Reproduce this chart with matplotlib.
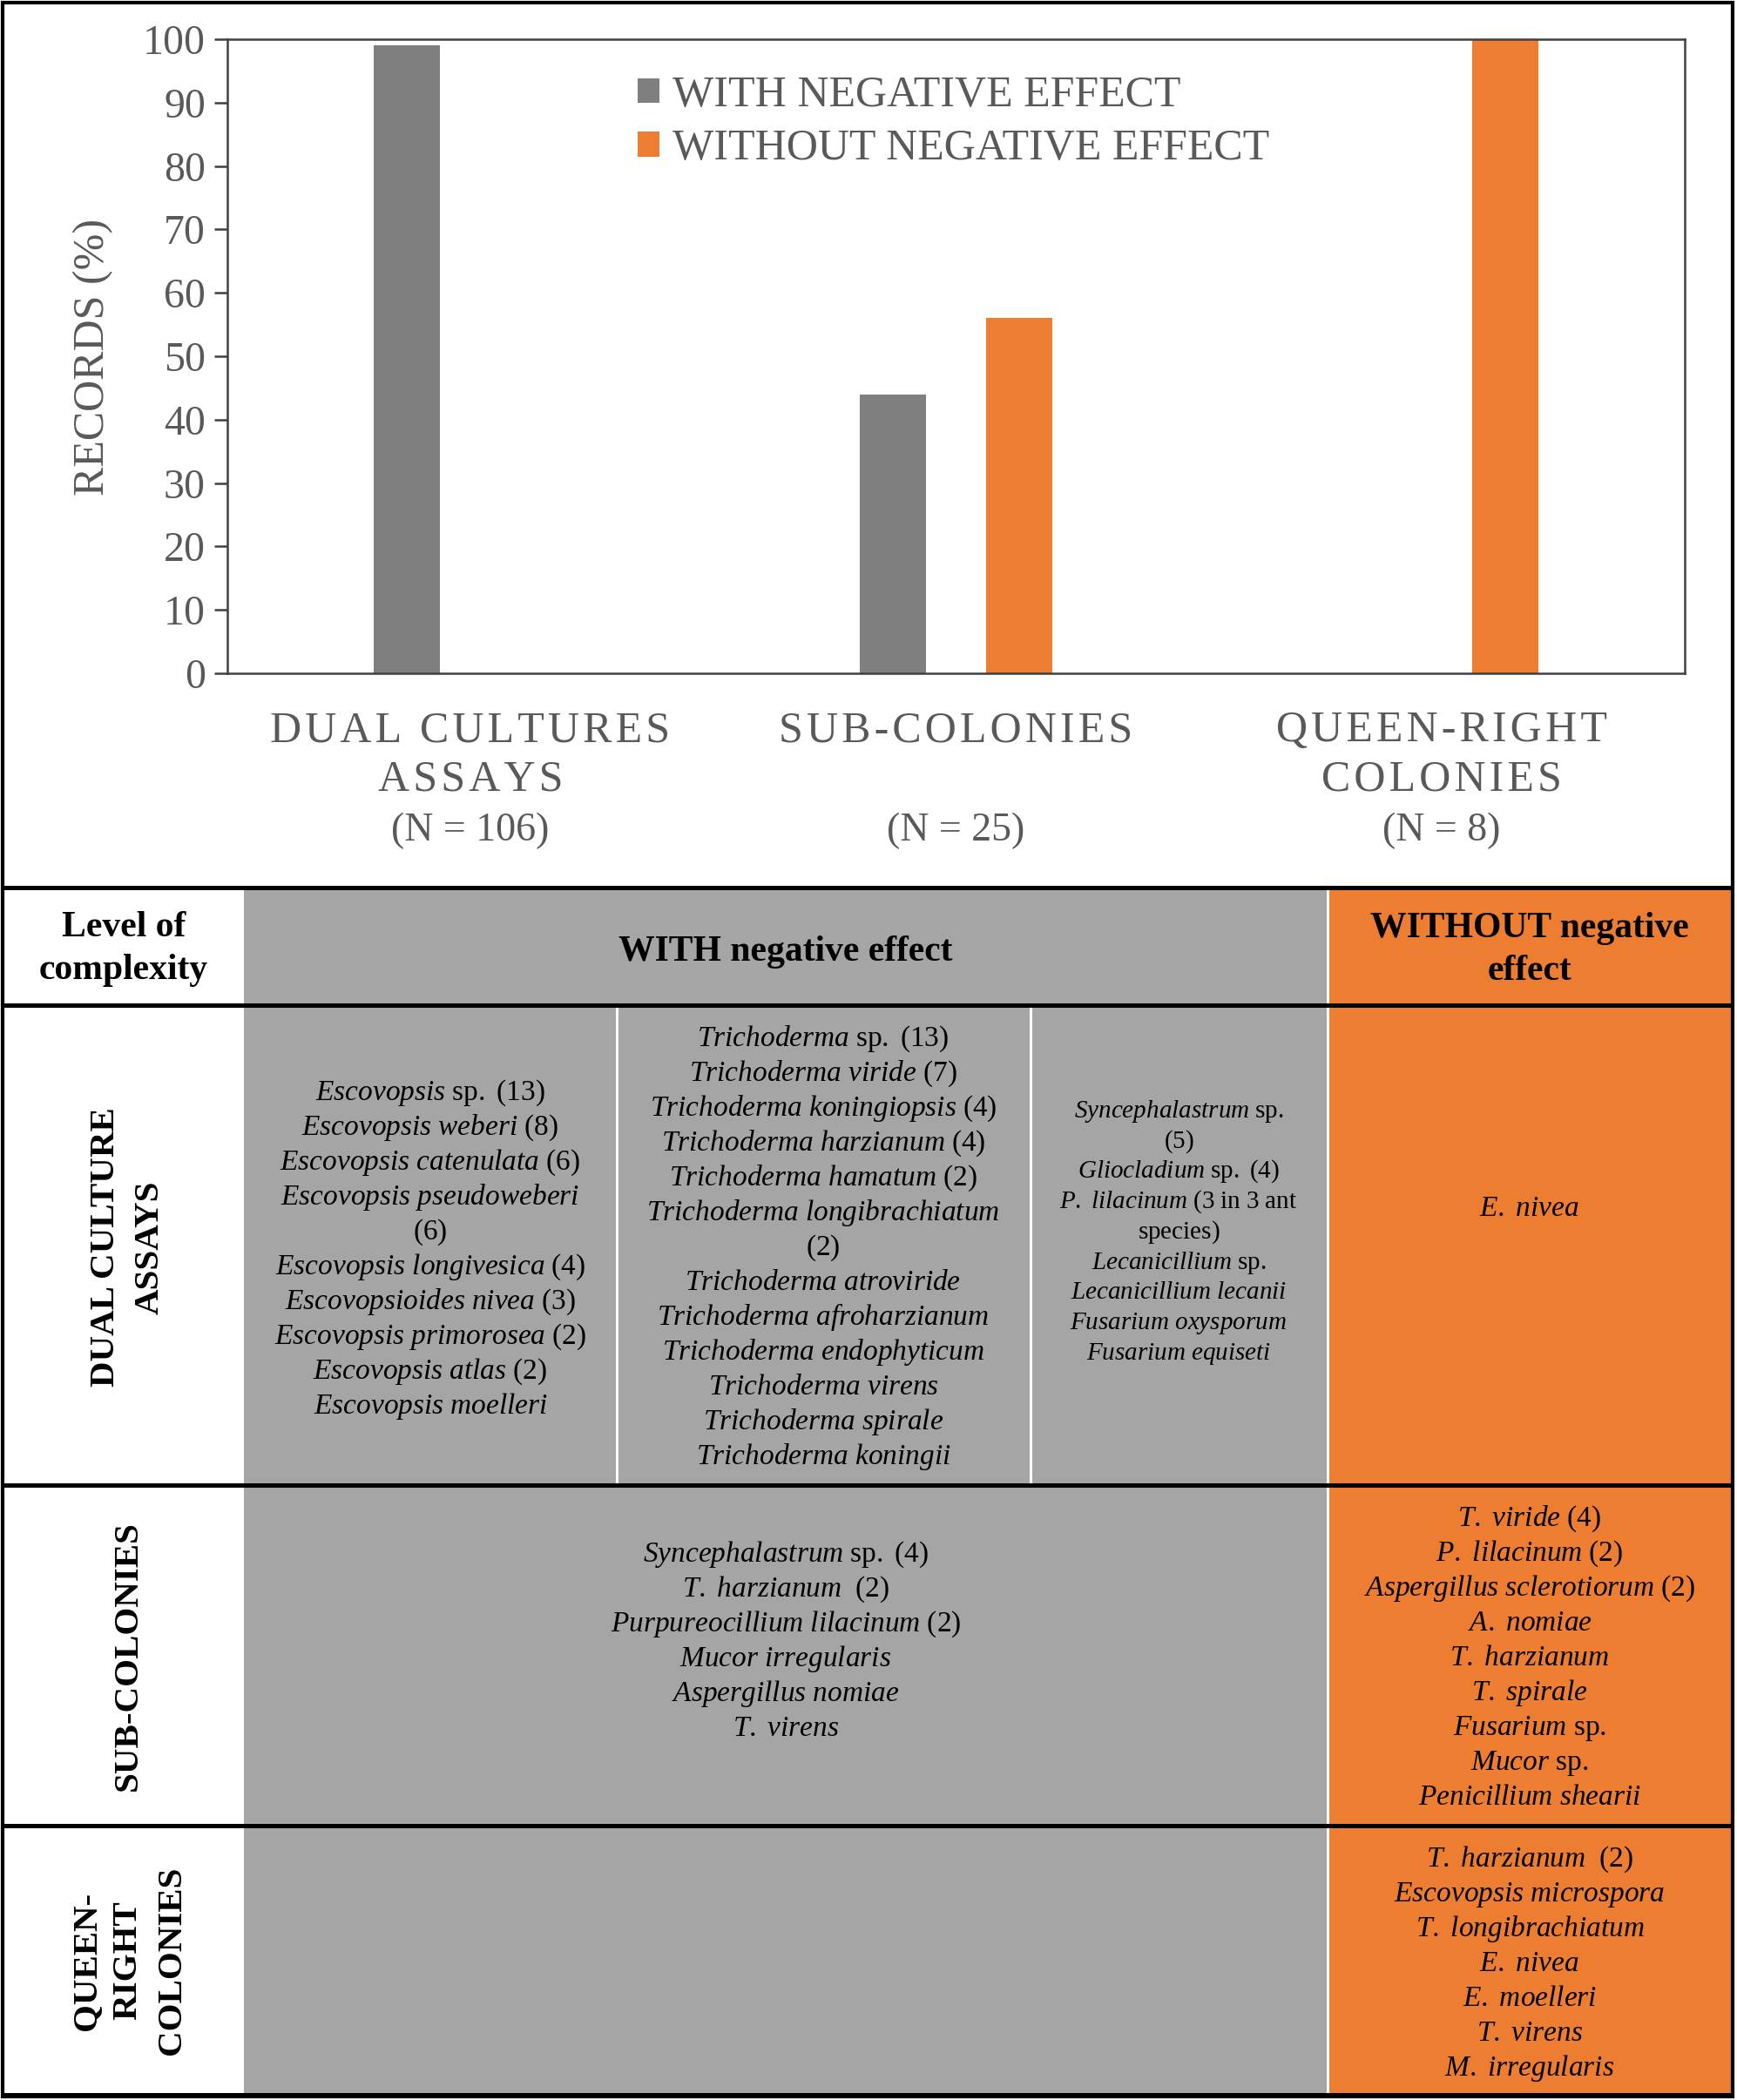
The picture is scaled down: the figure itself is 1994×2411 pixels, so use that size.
import numpy as np
import matplotlib
matplotlib.use('Agg')
import matplotlib.pyplot as plt
from matplotlib.patches import Rectangle
from matplotlib.transforms import blended_transform_factory

# ---- data -------------------------------------------------------------------
categories = ["DUAL CULTURES\nASSAYS", "SUB-COLONIES", "QUEEN-RIGHT\nCOLONIES"]
n_labels = ["(N = 106)", "(N = 25)", "(N = 8)"]
with_neg = [99, 44, 0]
without_neg = [0, 56, 100]
series_names = ["WITH NEGATIVE EFFECT", "WITHOUT NEGATIVE EFFECT"]

head_level = ["Level of", "complexity"]
head_with = ["WITH negative effect"]
head_without = ["WITHOUT negative", "effect"]
row_labels = [["DUAL CULTURE", "ASSAYS"], ["SUB-COLONIES"], ["QUEEN-", "RIGHT", "COLONIES"]]

# *...* marks italic
dual_a = ["*Escovopsis* sp. (13)", "*Escovopsis weberi* (8)", "*Escovopsis catenulata* (6)",
          "*Escovopsis pseudoweberi*", "(6)", "*Escovopsis longivesica* (4)",
          "*Escovopsioides nivea* (3)", "*Escovopsis primorosea* (2)", "*Escovopsis atlas* (2)",
          "*Escovopsis moelleri*"]
dual_b = ["*Trichoderma* sp. (13)", "*Trichoderma viride* (7)", "*Trichoderma koningiopsis* (4)",
          "*Trichoderma harzianum* (4)", "*Trichoderma hamatum* (2)",
          "*Trichoderma longibrachiatum*", "(2)", "*Trichoderma atroviride*",
          "*Trichoderma afroharzianum*", "*Trichoderma endophyticum*", "*Trichoderma virens*",
          "*Trichoderma spirale*", "*Trichoderma koningii*"]
dual_c = ["*Syncephalastrum* sp.", "(5)", "*Gliocladium* sp. (4)", "*P. lilacinum* (3 in 3 ant",
          "species)", "*Lecanicillium* sp.", "*Lecanicillium lecanii*", "*Fusarium oxysporum*",
          "*Fusarium equiseti*"]
dual_without = ["*E. nivea*"]
sub_with = ["*Syncephalastrum* sp. (4)", "*T. harzianum*  (2)", "*Purpureocillium lilacinum* (2)",
            "*Mucor irregularis*", "*Aspergillus nomiae*", "*T. virens*"]
sub_without = ["*T. viride* (4)", "*P. lilacinum* (2)", "*Aspergillus sclerotiorum* (2)",
               "*A. nomiae*", "*T. harzianum*", "*T. spirale*", "*Fusarium* sp.", "*Mucor* sp.",
               "*Penicillium shearii*"]
queen_without = ["*T. harzianum*  (2)", "*Escovopsis microspora*", "*T. longibrachiatum*",
                 "*E. nivea*", "*E. moelleri*", "*T. virens*", "*M. irregularis*"]

# ---- style ------------------------------------------------------------------
plt.rcParams['font.family'] = ['Liberation Serif', 'DejaVu Serif']
plt.rcParams['mathtext.fontset'] = 'custom'
plt.rcParams['mathtext.rm'] = 'Liberation Serif'
plt.rcParams['mathtext.it'] = 'Liberation Serif:italic'
plt.rcParams['mathtext.bf'] = 'Liberation Serif:bold'

GRAY_BAR = '#7F7F7F'
ORANGE = '#ED7D31'
GRAY_CELL = '#A5A5A5'
TXT = '#595959'
AX = '#404040'

W, H = 1994, 2411
fig = plt.figure(figsize=(W / 100, H / 100), dpi=100)

# overlay in pixel coordinates for the table and frame
ov = fig.add_axes([0, 0, 1, 1])
ov.set_xlim(0, W)
ov.set_ylim(H, 0)
ov.axis('off')
ov.set_zorder(0)


def em(fs):
    return fs * 100 / 72.0


def mt(s):
    parts = s.split('*')
    out = []
    for i, p in enumerate(parts):
        if not p:
            continue
        p = p.replace(' ', r'\ ')
        out.append((r'\mathit{%s}' if i % 2 else r'\mathrm{%s}') % p)
    return '$' + ''.join(out) + '$'


def block(x, yc, lines, fs, step, **kw):
    n = len(lines)
    for i, s in enumerate(lines):
        y = yc + (i - (n - 1) / 2.0) * step + 0.3 * em(fs)
        ov.text(x, y, mt(s), ha='center', va='baseline', fontsize=fs, color='black', **kw)


# ---- bar chart --------------------------------------------------------------
ax_l, ax_r, ax_t, ax_b = 261, 1934, 45, 773
ax = fig.add_axes([ax_l / W, 1 - ax_b / H, (ax_r - ax_l) / W, (ax_b - ax_t) / H])
ax.set_zorder(2)
x = np.arange(len(categories))
bw, off = 0.136, 0.13
b1 = ax.bar(x - off, with_neg, bw, color=GRAY_BAR, label=series_names[0])
b2 = ax.bar(x + off, without_neg, bw, color=ORANGE, label=series_names[1])
ax.set_xlim(-0.5, 2.5)
ax.set_ylim(0, 100)
ax.set_yticks(np.arange(0, 101, 10))
ax.set_xticks([])
for sp in ax.spines.values():
    sp.set_color(AX)
    sp.set_linewidth(1.8)
ax.tick_params(axis='y', direction='out', length=11, width=1.8, color=AX,
               labelsize=34.5, labelcolor=TXT, pad=7)

ov.text(107, 410, "RECORDS (%)", rotation=90, ha='center', va='center', fontsize=36, color=TXT)

tr = blended_transform_factory(ax.transData, ov.transData)
for i, cat in enumerate(categories):
    for j, line in enumerate(cat.split('\n')):
        ax.text(x[i], 851 + j * 56, '\u200a'.join(line), transform=tr, ha='center',
                va='baseline', fontsize=36, color=TXT, clip_on=False)
    ax.text(x[i], 965, n_labels[i], transform=tr, ha='center', va='baseline',
            fontsize=33, color=TXT, clip_on=False)

ax.legend(handles=[b1, b2], labels=series_names, loc='upper left',
          bbox_to_anchor=(732, 86), bbox_transform=ov.transData, frameon=False,
          fontsize=36, labelcolor=TXT, handlelength=0.5, handleheight=0.5,
          handletextpad=0.3, labelspacing=0.3, borderpad=0, borderaxespad=0)

# ---- table ------------------------------------------------------------------
col_x = [4, 280, 708, 1183, 1524, 1988]
row_y = [1019, 1154, 1705, 2096, 2405]

ov.add_patch(Rectangle((col_x[1], row_y[0]), col_x[4] - col_x[1], row_y[-1] - row_y[0],
                       color=GRAY_CELL, lw=0))
ov.add_patch(Rectangle((col_x[4], row_y[0]), col_x[5] - col_x[4], row_y[-1] - row_y[0],
                       color=ORANGE, lw=0))
for cx in col_x[2:4]:
    ov.plot([cx, cx], [row_y[1], row_y[2]], color='white', lw=2.2)
ov.plot([col_x[4], col_x[4]], [row_y[0], row_y[-1]], color='white', lw=2.2)
for ry in row_y:
    ov.plot([3, 1989], [ry, ry], color='black', lw=3.6, solid_capstyle='butt')
ov.add_patch(Rectangle((3, 3), 1986, 2404, fill=False, ec='black', lw=3.0))

# header
fsh = 30
for j, s in enumerate(head_level):
    ov.text(142, 1062 + j * 49 + 0.3 * em(fsh), s, ha='center', va='baseline',
            fontsize=fsh, fontweight='bold')
ov.text(902, 1090 + 0.3 * em(fsh), head_with[0], ha='center', va='baseline',
        fontsize=fsh, fontweight='bold')
for j, s in enumerate(head_without):
    ov.text(1756, 1063 + j * 49 + 0.3 * em(fsh), s, ha='center', va='baseline',
            fontsize=fsh, fontweight='bold')

# row labels (vertical)
fsr = 29.5
row_lab_x = [[117, 168], [143], [96, 143, 193]]
row_lab_y = [1432, 1901, 2251]
for labs, xs, yc in zip(row_labels, row_lab_x, row_lab_y):
    for s, lx in zip(labs, xs):
        ov.text(lx + 0.33 * em(fsr), yc, s, rotation=90, rotation_mode='anchor',
                ha='center', va='baseline', fontsize=fsr, fontweight='bold')

# species lists
block(494, 1433, dual_a, 24, 40)
block(945, 1431, dual_b, 24, 40)
block(1353, 1413, dual_c, 21, 34.8)
block(1756, 1386, dual_without, 24, 40)
block(902, 1883, sub_with, 24, 40)
block(1756, 1902, sub_without, 24, 40)
block(1756, 2253, queen_without, 24, 40)

fig.savefig('out.png', dpi=100)
